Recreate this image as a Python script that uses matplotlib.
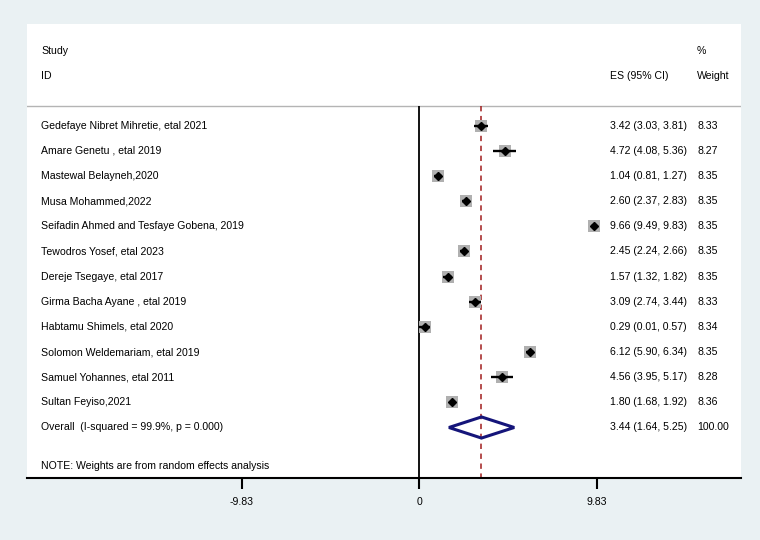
import numpy as np
import matplotlib
matplotlib.use("Agg")
import matplotlib.pyplot as plt
from matplotlib.patches import Polygon

plt.rcParams["font.family"] = ["Liberation Sans", "DejaVu Sans"]

studies = [
    "Gedefaye Nibret Mihretie, etal 2021",
    "Amare Genetu , etal 2019",
    "Mastewal Belayneh,2020",
    "Musa Mohammed,2022",
    "Seifadin Ahmed and Tesfaye Gobena, 2019",
    "Tewodros Yosef, etal 2023",
    "Dereje Tsegaye, etal 2017",
    "Girma Bacha Ayane , etal 2019",
    "Habtamu Shimels, etal 2020",
    "Solomon Weldemariam, etal 2019",
    "Samuel Yohannes, etal 2011",
    "Sultan Feyiso,2021",
]
es = [3.42, 4.72, 1.04, 2.60, 9.66, 2.45, 1.57, 3.09, 0.29, 6.12, 4.56, 1.80]
lo = [3.03, 4.08, 0.81, 2.37, 9.49, 2.24, 1.32, 2.74, 0.01, 5.90, 3.95, 1.68]
hi = [3.81, 5.36, 1.27, 2.83, 9.83, 2.66, 1.82, 3.44, 0.57, 6.34, 5.17, 1.92]
weights = [8.33, 8.27, 8.35, 8.35, 8.35, 8.35, 8.35, 8.33, 8.34, 8.35, 8.28, 8.36]

overall_label = "Overall  (I-squared = 99.9%, p = 0.000)"
overall_es, overall_lo, overall_hi, overall_w = 3.44, 1.64, 5.25, 100.00
note = "NOTE: Weights are from random effects analysis"
xticks = [-9.83, 0, 9.83]

BG = "#eaf1f3"
fig = plt.figure(figsize=(7.6, 5.4), dpi=100, facecolor=BG)
# white plot region: x 27..741 px, y 24..478 px
ax = fig.add_axes([27 / 760, (540 - 478) / 540, 714 / 760, 454 / 540])
ax.set_facecolor("white")

x0_px, unit_px = 419.3, 18.08
ax.set_xlim((27 - x0_px) / unit_px, (741 - x0_px) / unit_px)
row0, step = 125.7, 25.15
ax.set_ylim((478 - row0) / step, (24 - row0) / step)

n = len(studies)
ypos = np.arange(n)
oy = n

# grey weight boxes
for y, e, w in zip(ypos, es, weights):
    ax.plot(e, y, "s", color="#b0b0b0", markersize=8.2 * np.sqrt(w / max(weights)),
            markeredgewidth=0, zorder=3)
# confidence intervals
ax.hlines(ypos, lo, hi, color="black", linewidth=1.7, zorder=4)
ax.plot(es, ypos, "D", color="black", markersize=4.4, zorder=5)

# overall diamond
h = 0.42
diamond = Polygon([[overall_lo, oy], [overall_es, oy - h], [overall_hi, oy], [overall_es, oy + h]],
                  closed=True, fill=False, edgecolor="#15157a", linewidth=2.2, zorder=5)
ax.add_patch(diamond)

sep_y = (106 - row0) / step
ylow = ax.get_ylim()[0]
ax.vlines(0, sep_y, ylow, color="black", linewidth=1.3, zorder=2)
ax.vlines(overall_es, sep_y, ylow, color="#a01c1c", linewidth=1.1,
          linestyles=(0, (3.5, 3)), zorder=2)
ax.axhline(sep_y, color="#b4b4b4", linewidth=1.0, zorder=1)

# text columns
name_x = (41 - x0_px) / unit_px
es_x = (610 - x0_px) / unit_px
w_x = (697 - x0_px) / unit_px
fs = 7.6
ax.text(name_x, (50.7 - row0) / step, "Study", fontsize=fs, va="center")
ax.text(name_x, (76 - row0) / step, "ID", fontsize=fs, va="center")
ax.text(es_x, (76 - row0) / step, "ES (95% CI)", fontsize=fs, va="center")
ax.text(w_x, (50.7 - row0) / step, "%", fontsize=fs, va="center")
ax.text(w_x, (76 - row0) / step, "Weight", fontsize=fs, va="center")

for y, s, e, l, u, w in zip(ypos, studies, es, lo, hi, weights):
    ax.text(name_x, y, s, fontsize=fs, va="center")
    ax.text(es_x, y, f"{e:.2f} ({l:.2f}, {u:.2f})", fontsize=fs, va="center")
    ax.text(w_x, y, f"{w:.2f}", fontsize=fs, va="center")

ax.text(name_x, oy, overall_label, fontsize=fs, va="center")
ax.text(es_x, oy, f"{overall_es:.2f} ({overall_lo:.2f}, {overall_hi:.2f})", fontsize=fs, va="center")
ax.text(w_x, oy, f"{overall_w:.2f}", fontsize=fs, va="center")
ax.text(name_x, (466 - row0) / step, note, fontsize=fs, va="center")

for side in ["top", "right", "left"]:
    ax.spines[side].set_visible(False)
ax.spines["bottom"].set_linewidth(1.5)
ax.set_yticks([])
ax.set_xticks(xticks)
ax.set_xticklabels([f"{t:g}" for t in xticks])
ax.tick_params(axis="x", length=8, width=1.5, pad=6, labelsize=fs)

fig.savefig("out.png", dpi=100, facecolor=BG)
